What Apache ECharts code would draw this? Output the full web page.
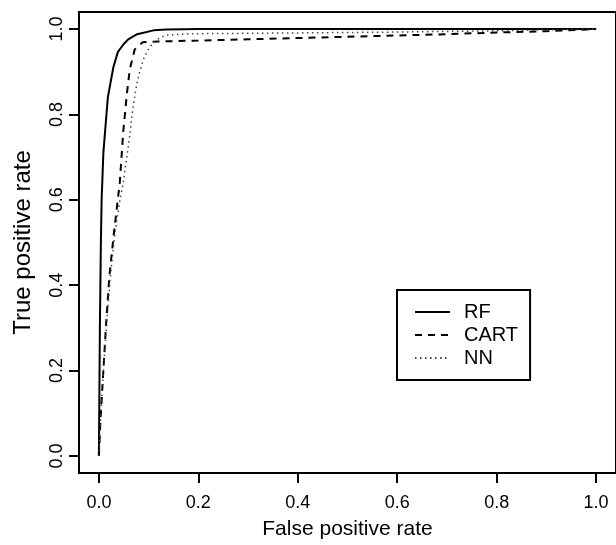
<!DOCTYPE html>
<html>
<head>
<meta charset="utf-8">
<script src="https://cdn.jsdelivr.net/npm/echarts@6/dist/echarts.min.js"></script>
<style>
    html, body { margin: 0; padding: 0; background: #fff; }
    #chart { width: 616px; height: 545px; }
</style>
</head>
<body>
<div id="chart"></div>
<script>
// ROC 曲线数据
const tickValues = [0, 0.2, 0.4, 0.6, 0.8, 1.0]
const seriesNames = ['RF', 'CART', 'NN']

const rfFpr = [0, 0.001, 0.002, 0.004, 0.0055, 0.009, 0.018, 0.029, 0.038, 0.05, 0.059, 0.077, 0.11, 0.136, 0.2, 1]
const rfTpr = [0, 0.15, 0.3, 0.5, 0.6, 0.71, 0.84, 0.91, 0.946, 0.965, 0.976, 0.988, 0.997, 0.999, 1, 1]

const cartFpr = [0, 0.003, 0.008, 0.014, 0.021, 0.03, 0.038, 0.042, 0.049, 0.056, 0.062, 0.072, 0.088, 0.12, 0.2, 0.3, 0.4, 0.5, 0.6, 0.7, 0.8, 0.9, 1]
const cartTpr = [0, 0.08, 0.18, 0.3, 0.42, 0.52, 0.6, 0.64, 0.76, 0.845, 0.905, 0.952, 0.969, 0.971, 0.973, 0.976, 0.979, 0.982, 0.985, 0.988, 0.992, 0.995, 1]

const nnFpr = [0, 0.004, 0.008, 0.015, 0.023, 0.032, 0.041, 0.049, 0.055, 0.062, 0.069, 0.076, 0.082, 0.09, 0.098, 0.109, 0.122, 0.136, 0.18, 0.4, 0.6, 0.8, 1]
const nnTpr = [0, 0.1, 0.18, 0.3, 0.42, 0.52, 0.59, 0.64, 0.69, 0.75, 0.82, 0.87, 0.9, 0.93, 0.95, 0.968, 0.979, 0.986, 0.989, 0.991, 0.993, 0.996, 1]

function zip(xs, ys) {
    return xs.map((x, i) => [x, ys[i]])
}

(function() {
    let myChart = echarts.init(document.getElementById('chart'))
    const font = 'Liberation Sans, Arial, Helvetica, sans-serif'
    let axisCommon = {
        type: 'value',
        min: -0.04,
        max: 1.04,
        splitLine: { show: false },
        axisLine: { show: false, onZero: false },
        axisTick: {
            show: true,
            inside: false,
            length: 10,
            customValues: tickValues,
            lineStyle: { color: '#000', width: 2 }
        },
        nameLocation: 'middle'
    }
    let option = {
        animation: false,
        backgroundColor: '#fff',
        grid: {
            show: true,
            left: 79,
            top: 12,
            width: 538,
            height: 470,
            borderColor: '#000',
            borderWidth: 2
        },
        xAxis: Object.assign({}, axisCommon, {
            name: 'False positive rate',
            nameGap: 46,
            nameTextStyle: { color: '#000', fontFamily: font, fontSize: 21 },
            axisLabel: {
                customValues: tickValues,
                margin: 21,
                color: '#000',
                fontSize: 18,
                fontFamily: font,
                formatter: v => v.toFixed(1)
            }
        }),
        yAxis: Object.assign({}, axisCommon, {
            name: 'True positive rate',
            nameGap: 44,
            nameRotate: 90,
            nameTextStyle: { color: '#000', fontFamily: font, fontSize: 24 },
            axisLabel: {
                customValues: tickValues,
                rotate: 90,
                margin: 13,
                color: '#000',
                fontSize: 18,
                fontFamily: font,
                formatter: v => v.toFixed(1)
            }
        }),
        legend: {
            orient: 'vertical',
            left: 397,
            top: 290,
            padding: [12, 12, 12, 17],
            itemWidth: 35,
            itemHeight: 14,
            itemGap: 3,
            borderColor: '#000',
            borderWidth: 2,
            data: seriesNames,
            itemStyle: { opacity: 0 },
            textStyle: {
                color: '#000',
                fontSize: 20,
                fontFamily: font,
                padding: [0, 0, 0, 9]
            }
        },
        series: [{
            name: 'RF',
            type: 'line',
            symbol: 'none',
            data: zip(rfFpr, rfTpr),
            lineStyle: { color: '#000', width: 2 },
            z: 3
        }, {
            name: 'CART',
            type: 'line',
            symbol: 'none',
            data: zip(cartFpr, cartTpr),
            lineStyle: { color: '#000', width: 2, type: [7, 6] }
        }, {
            name: 'NN',
            type: 'line',
            symbol: 'none',
            data: zip(nnFpr, nnTpr),
            lineStyle: { color: '#444', width: 1.5, type: [1.5, 3.5] }
        }]
    }
    myChart.setOption(option)
})()
</script>
</body>
</html>
